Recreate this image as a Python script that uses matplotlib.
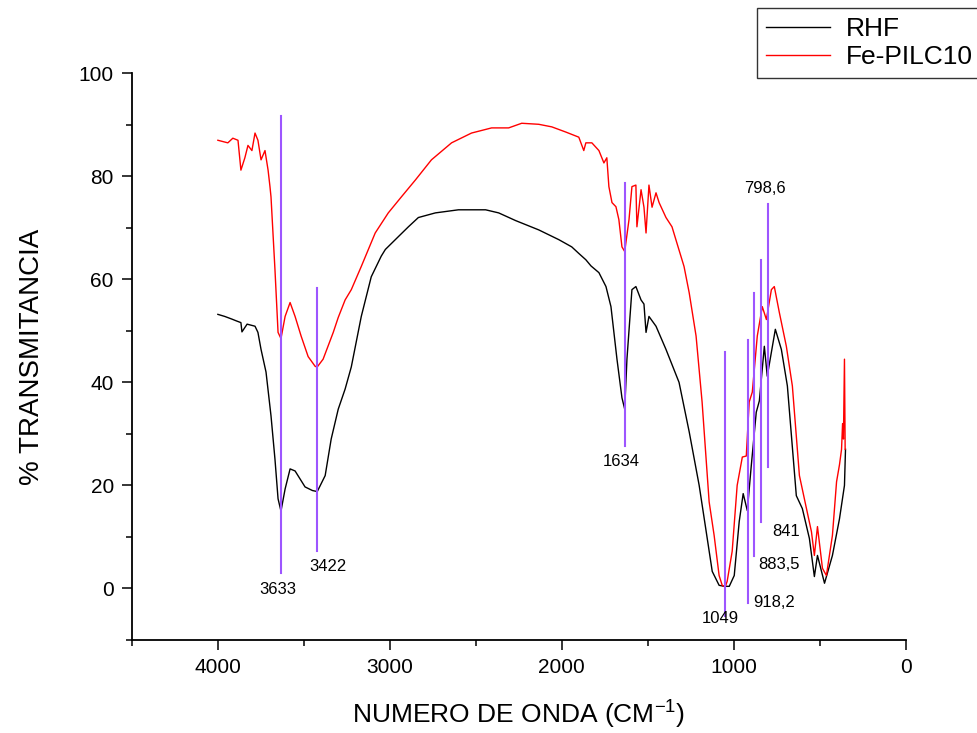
import matplotlib
matplotlib.use("Agg")
import matplotlib.pyplot as plt
from matplotlib.ticker import MultipleLocator

plt.rcParams["font.family"] = ["Liberation Sans", "DejaVu Sans"]
plt.rcParams["mathtext.fontset"] = "custom"
plt.rcParams["mathtext.rm"] = "Liberation Sans"

# RHF spectrum (wavenumber cm-1, %T)
rhf_wn = [4000, 3960, 3920, 3890, 3866, 3860, 3830, 3784, 3767, 3749, 3720,
          3691, 3668, 3650, 3633, 3609, 3580, 3551, 3493, 3450, 3422, 3376,
          3341, 3300, 3260, 3224, 3166, 3108, 3050, 3026, 2950, 2892, 2834,
          2735, 2601, 2443, 2367, 2268, 2134, 2017, 1942, 1900, 1860, 1830,
          1784, 1743, 1714, 1679, 1650, 1634, 1621, 1592, 1569, 1539, 1522,
          1510, 1493, 1452, 1394, 1318, 1259, 1201, 1160, 1125, 1085, 1055,
          1026, 997, 968, 945, 921, 898, 869, 851, 822, 805, 758, 723, 688,
          636, 601, 560, 531, 513, 472, 426, 385, 356, 350]
rhf_t = [53.2, 52.8, 52.3, 51.9, 51.6, 49.8, 51.3, 50.9, 49.7, 46.4, 42.0,
         33.5, 25.1, 17.4, 15.0, 19.3, 23.2, 22.8, 19.7, 19.0, 18.8, 21.9,
         29.0, 34.8, 38.7, 43.0, 52.8, 60.5, 64.5, 65.8, 68.3, 70.2, 72.0,
         72.9, 73.5, 73.5, 72.9, 71.4, 69.6, 67.7, 66.3, 65.0, 63.8, 62.6,
         61.3, 58.6, 54.7, 44.5, 37.0, 34.8, 44.5, 58.0, 58.6, 56.0, 55.2,
         49.7, 52.8, 50.9, 46.4, 40.0, 30.4, 20.0, 11.0, 3.3, 0.6, 0.4,
         0.4, 2.5, 13.0, 18.4, 15.1, 23.8, 34.2, 36.4, 47.0, 41.2, 50.3,
         46.4, 39.3, 18.0, 15.5, 9.7, 2.3, 6.4, 1.0, 6.4, 13.5, 20.0, 27.0]

# Fe-PILC10 spectrum
pilc_wn = [4000, 3942, 3913, 3883, 3866, 3843, 3825, 3802, 3784, 3767, 3749,
           3726, 3708, 3697, 3691, 3668, 3650, 3633, 3609, 3580, 3551, 3516,
           3475, 3434, 3422, 3388, 3329, 3300, 3260, 3224, 3166, 3085, 3009,
           2933, 2851, 2758, 2641, 2525, 2408, 2309, 2233, 2134, 2058, 1977,
           1901, 1872, 1860, 1825, 1784, 1755, 1738, 1726, 1708, 1685, 1668,
           1650, 1634, 1609, 1592, 1569, 1563, 1539, 1522, 1510, 1493, 1475,
           1452, 1434, 1394, 1359, 1330, 1289, 1259, 1219, 1184, 1143, 1114,
           1085, 1067, 1049, 1038, 1009, 980, 950, 927, 910, 892, 863, 834,
           810, 781, 764, 735, 694, 659, 618, 577, 548, 531, 513, 484, 461,
           426, 402, 385, 373, 367, 362, 356, 352]
pilc_t = [87.0, 86.5, 87.4, 87.0, 81.2, 83.6, 86.0, 85.0, 88.4, 87.0, 83.2,
          85.0, 81.2, 78.0, 76.0, 61.9, 49.7, 48.5, 52.8, 55.5, 52.8, 49.0,
          45.0, 43.1, 43.0, 44.5, 49.7, 52.6, 56.0, 58.0, 62.5, 69.0, 72.9,
          76.0, 79.3, 83.2, 86.5, 88.4, 89.4, 89.4, 90.3, 90.1, 89.6, 88.6,
          87.6, 85.0, 86.5, 86.5, 85.0, 82.6, 83.6, 78.0, 74.9, 74.1, 71.6,
          66.3, 65.4, 71.6, 78.0, 78.3, 70.2, 77.4, 74.0, 69.0, 78.3, 74.0,
          76.8, 74.9, 72.0, 70.2, 67.0, 62.5, 57.4, 49.0, 36.2, 16.8, 10.3,
          2.5, 0.6, 0.3, 1.4, 7.2, 20.0, 25.5, 25.7, 36.2, 38.1, 49.0, 54.7,
          52.2, 58.0, 58.6, 53.6, 47.0, 39.3, 21.9, 15.5, 11.0, 6.4, 12.0,
          3.9, 2.5, 10.3, 20.7, 24.0, 27.0, 32.0, 29.0, 44.5, 27.0]

# marked bands: position, line top/bottom (%T), label text and label spot
band_wn = [3633, 3422, 1634, 1049, 918.2, 883.5, 841, 798.6]
band_top = [91.7, 58.4, 78.7, 45.8, 48.2, 57.4, 63.8, 74.7]
band_bottom = [2.9, 7.2, 27.7, -5.4, -2.9, 6.2, 12.8, 23.6]
band_text = ["3633", "3422", "1634", "1049", "918,2", "883,5", "841", "798,6"]
label_wn = [3650, 3358, 1656, 1079, 764, 735, 694, 816]
label_t = [-0.3, 4.2, 24.7, -5.9, -2.8, 4.6, 11.0, 77.7]

fig = plt.figure(figsize=(9.77, 7.33), dpi=100)
ax = fig.add_axes([0.135, 0.127, 0.792, 0.773])

ax.plot(rhf_wn, rhf_t, color="black", lw=1.0, label="RHF")
ax.plot(pilc_wn, pilc_t, color="red", lw=1.0, label="Fe-PILC10")

for wn, top, bot in zip(band_wn, band_top, band_bottom):
    ax.plot([wn, wn], [bot, top], color="#9d55ff", lw=1.5)
for txt, x, y in zip(band_text, label_wn, label_t):
    ax.text(x, y, txt, fontsize=12, ha="center", va="center")

ax.set_xlim(4500, 0)
ax.set_ylim(-10, 100)
ax.xaxis.set_major_locator(MultipleLocator(1000))
ax.xaxis.set_minor_locator(MultipleLocator(500))
ax.yaxis.set_major_locator(MultipleLocator(20))
ax.yaxis.set_minor_locator(MultipleLocator(10))
ax.tick_params(which="major", direction="out", length=7, width=1.1,
               labelsize=15, pad=6)
ax.tick_params(which="minor", direction="out", length=4, width=1.1)
for side in ("top", "right"):
    ax.spines[side].set_visible(False)
for side in ("left", "bottom"):
    ax.spines[side].set_linewidth(1.3)

ax.set_xlabel("NUMERO DE ONDA (CM$\\mathregular{^{-1}}$)", fontsize=19,
              labelpad=16)
ax.set_ylabel("% TRANSMITANCIA", fontsize=20, labelpad=24)

leg = fig.legend(loc="upper left", bbox_to_anchor=(757 / 977, 1 - 8 / 733),
                 fontsize=19, frameon=True, fancybox=False, shadow=False,
                 borderaxespad=0, borderpad=0.35, handlelength=2.4,
                 handletextpad=0.6, labelspacing=0.15)
leg.get_frame().set_edgecolor("black")
leg.get_frame().set_linewidth(1.0)

fig.savefig("out.png", dpi=100)
